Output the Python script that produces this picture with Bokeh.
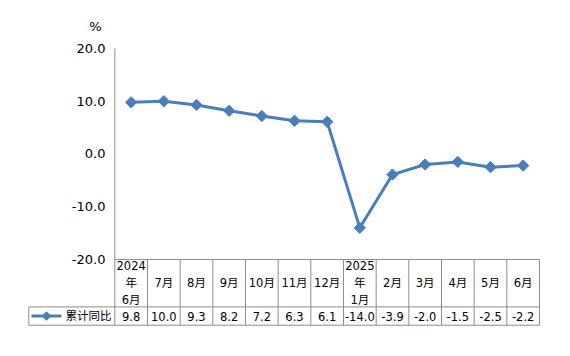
import math
from bokeh.plotting import figure
from bokeh.models import Range1d
from bokeh.core.properties import value
from bokeh.embed import file_html
from bokeh.resources import INLINE

# ---- data ----
categories = ["2024\n年\n6月", "7月", "8月", "9月", "10月", "11月", "12月",
              "2025\n年\n1月", "2月", "3月", "4月", "5月", "6月"]
values = [9.8, 10.0, 9.3, 8.2, 7.2, 6.3, 6.1, -14.0, -3.9, -2.0, -1.5, -2.5, -2.2]
y_ticks = [20, 10, 0, -10, -20]
series_name = "累计同比"
unit_label = "%"

LINE_COLOR = "#4A7EBB"
GRID_COLOR = "#8C8C8C"
FONT = "DejaVu Sans, Noto Sans CJK SC"

n = len(categories)
y_top, y_bot = max(y_ticks), min(y_ticks)
# table rows (in data units below the y range)
row_mid = y_bot - 8.99
row_bottom = y_bot - 12.46
legend_left = -2.632

p = figure(width=562, height=344, output_backend="svg", toolbar_location=None,
           x_range=Range1d(-2.703, 13.459), y_range=Range1d(-35.36, 26.825),
           x_axis_location=None, y_axis_location=None,
           min_border_left=26, min_border_right=8, min_border_top=12, min_border_bottom=4)
p.outline_line_color = None
p.grid.visible = False

# y axis line (continues as table's left border)
p.segment(x0=[0], y0=[y_top], x1=[0], y1=[row_bottom], line_color=GRID_COLOR, line_width=1)
# table vertical lines
xs_v = list(range(1, n + 1))
p.segment(x0=xs_v, y0=[y_bot] * len(xs_v), x1=xs_v, y1=[row_bottom] * len(xs_v),
          line_color=GRID_COLOR, line_width=1)
p.segment(x0=[legend_left], y0=[row_mid], x1=[legend_left], y1=[row_bottom],
          line_color=GRID_COLOR, line_width=1)
# table horizontal lines
p.segment(x0=[0, legend_left, legend_left], y0=[y_bot, row_mid, row_bottom],
          x1=[n, n, n], y1=[y_bot, row_mid, row_bottom], line_color=GRID_COLOR, line_width=1)

# y tick labels
p.text(x=[-0.285] * len(y_ticks), y=y_ticks, text=[f"{t:.1f}" for t in y_ticks],
       text_align="right", text_baseline="middle", text_font=value(FONT),
       text_font_size="13px", text_color="#000000")
p.text(x=[-0.59], y=[24.17], text=[unit_label], text_align="center", text_baseline="middle",
       text_font=value(FONT), text_font_size="13px", text_color="#000000")

centers = [i + 0.5 for i in range(n)]
# header labels
p.text(x=centers, y=[(y_bot + row_mid) / 2] * n, text=categories, text_align="center",
       text_baseline="middle", text_font=value(FONT), text_font_size="11.5px",
       text_line_height=1.2, text_color="#000000")
# value labels
p.text(x=centers, y=[(row_mid + row_bottom) / 2] * n, text=[f"{v:.1f}" for v in values],
       text_align="center", text_baseline="middle", text_font=value(FONT),
       text_font_size="11.5px", text_color="#000000")

# series
p.line(centers, values, line_color=LINE_COLOR, line_width=3, line_join="round")
p.scatter(centers, values, marker="square", angle=math.pi / 4, size=8,
          fill_color=LINE_COLOR, line_color=LINE_COLOR)

# legend cell
ly = (row_mid + row_bottom) / 2
p.line([-2.55, -1.63], [ly, ly], line_color=LINE_COLOR, line_width=3)
p.scatter([-2.09], [ly], marker="square", angle=math.pi / 4, size=6,
          fill_color=LINE_COLOR, line_color=LINE_COLOR)
p.text(x=[-1.51], y=[ly], text=[series_name], text_align="left", text_baseline="middle",
       text_font=value(FONT), text_font_size="11.5px", text_color="#000000")

open("out.html", "w").write(file_html(p, INLINE))
